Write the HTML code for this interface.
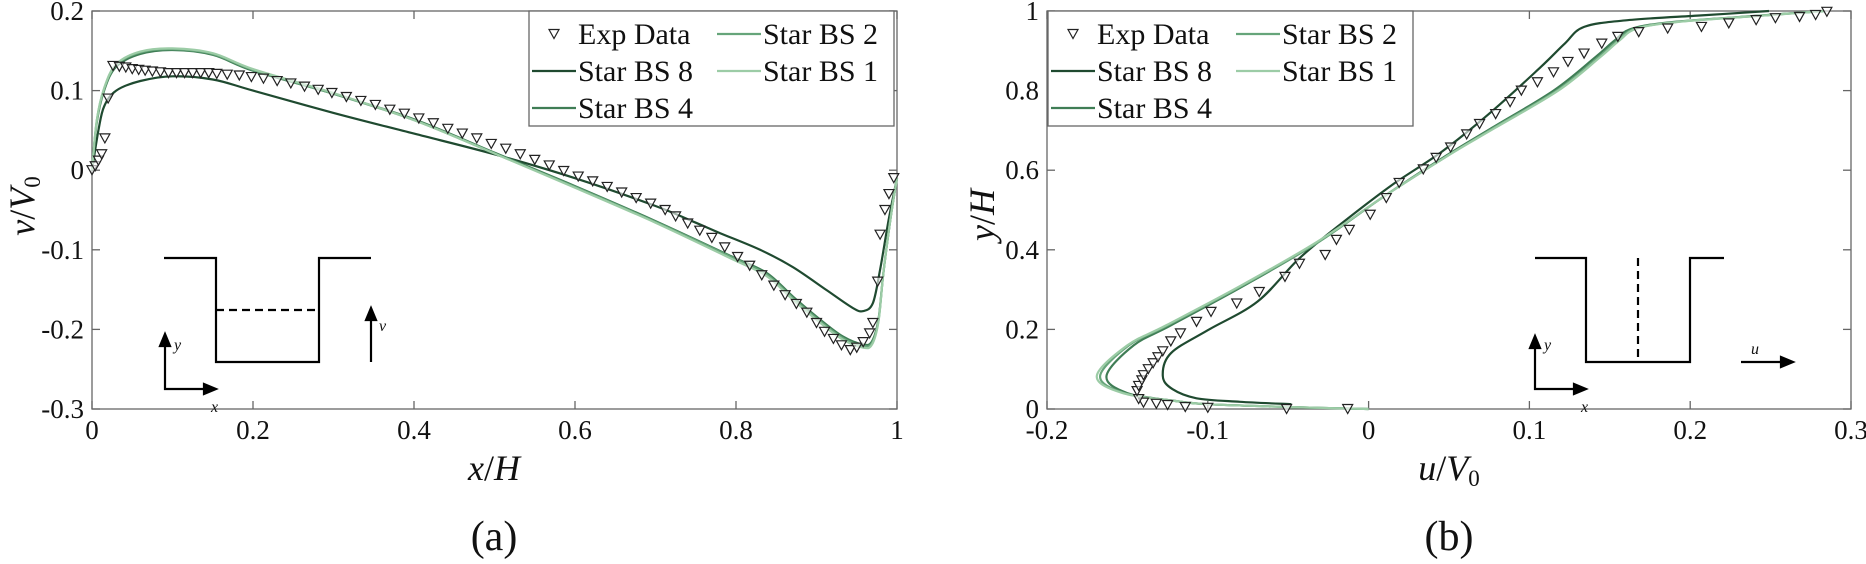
<!DOCTYPE html>
<html><head><meta charset="utf-8"><style>
html,body{margin:0;padding:0;background:#fff;}
svg, svg text{font-family:"Liberation Serif","DejaVu Serif",serif;}
</style></head><body>
<svg id="fig" width="1866" height="559" viewBox="0 0 1866 559" xmlns="http://www.w3.org/2000/svg" font-family="Liberation Serif, serif"></svg>
<script>
// ---------- Panel (a) data ----------
const aTicksX=[0,0.2,0.4,0.6,0.8,1];
const aTickLabelsX=["0","0.2","0.4","0.6","0.8","1"];
const aTicksY=[-0.3,-0.2,-0.1,0,0.1,0.2];
const aTickLabelsY=["-0.3","-0.2","-0.1","0","0.1","0.2"];
const aExpX=[0,0.004,0.008,0.012,0.016,0.02,0.026,0.034,0.042,0.05,0.058,0.066,0.075,0.085,0.095,0.105,0.115,0.125,0.135,0.145,0.155,0.168,0.183,0.198,0.213,0.23,0.247,0.264,0.281,0.298,0.316,0.334,0.352,0.37,0.388,0.406,0.424,0.442,0.46,0.478,0.496,0.514,0.532,0.55,0.568,0.586,0.604,0.622,0.64,0.658,0.676,0.694,0.712,0.725,0.74,0.755,0.77,0.786,0.802,0.817,0.832,0.847,0.861,0.875,0.888,0.9,0.91,0.921,0.931,0.942,0.95,0.958,0.966,0.97,0.976,0.979,0.985,0.99,0.996];
const aExpV=[0,0.005,0.012,0.02,0.04,0.09,0.131,0.13,0.129,0.127,0.126,0.125,0.124,0.123,0.122,0.122,0.122,0.122,0.122,0.122,0.121,0.12,0.119,0.117,0.115,0.112,0.109,0.105,0.101,0.097,0.092,0.087,0.082,0.076,0.071,0.065,0.059,0.052,0.046,0.04,0.033,0.027,0.02,0.013,0.006,-0.001,-0.008,-0.014,-0.021,-0.028,-0.035,-0.042,-0.05,-0.058,-0.067,-0.076,-0.085,-0.097,-0.109,-0.12,-0.132,-0.145,-0.157,-0.168,-0.179,-0.192,-0.203,-0.212,-0.22,-0.226,-0.223,-0.216,-0.205,-0.192,-0.14,-0.081,-0.05,-0.03,-0.01];
const aBS8X=[0,0.008,0.015,0.03,0.06,0.1,0.15,0.2,0.3,0.4,0.5,0.6,0.7,0.75,0.78,0.83,0.871,0.913,0.945,0.958,0.97,0.979,0.99,1.0];
const aBS8V=[0,0.05,0.08,0.1,0.112,0.118,0.114,0.1,0.072,0.046,0.02,-0.01,-0.045,-0.066,-0.079,-0.1,-0.122,-0.151,-0.173,-0.177,-0.167,-0.125,-0.06,-0.01];
const aBS4X=[0,0.006,0.015,0.03,0.06,0.1,0.15,0.2,0.3,0.4,0.5,0.6,0.7,0.796,0.838,0.871,0.905,0.933,0.958,0.969,0.977,0.983,0.992,1.0];
const aBS4V=[0,0.06,0.1,0.13,0.146,0.151,0.145,0.125,0.096,0.064,0.022,-0.02,-0.064,-0.109,-0.129,-0.159,-0.188,-0.209,-0.219,-0.215,-0.187,-0.13,-0.06,-0.01];
const aBS2V=[0,0.062,0.102,0.132,0.148,0.152,0.146,0.126,0.096,0.063,0.021,-0.021,-0.065,-0.11,-0.131,-0.161,-0.19,-0.211,-0.221,-0.217,-0.189,-0.13,-0.06,-0.01];
const aBS1V=[0,0.063,0.103,0.133,0.149,0.153,0.147,0.127,0.097,0.063,0.021,-0.022,-0.066,-0.112,-0.133,-0.163,-0.192,-0.213,-0.223,-0.219,-0.19,-0.13,-0.06,-0.01];

// ---------- Panel (b) data ----------
const bTicksX=[-0.2,-0.1,0,0.1,0.2,0.3];
const bTickLabelsX=["-0.2","-0.1","0","0.1","0.2","0.3"];
const bTicksY=[0,0.2,0.4,0.6,0.8,1];
const bTickLabelsY=["0","0.2","0.4","0.6","0.8","1"];
const bExpU=[-0.013,-0.051,-0.1,-0.114,-0.125,-0.132,-0.14,-0.143,-0.144,-0.143,-0.141,-0.14,-0.137,-0.134,-0.131,-0.128,-0.123,-0.117,-0.107,-0.098,-0.082,-0.068,-0.052,-0.043,-0.027,-0.02,-0.012,0.001,0.011,0.019,0.034,0.042,0.051,0.061,0.069,0.079,0.088,0.095,0.105,0.115,0.124,0.134,0.145,0.155,0.168,0.186,0.207,0.224,0.241,0.253,0.268,0.278,0.285];
const bExpY=[0.0,0.0,0.003,0.005,0.01,0.013,0.016,0.025,0.045,0.058,0.072,0.085,0.1,0.115,0.13,0.145,0.17,0.19,0.219,0.244,0.265,0.294,0.332,0.365,0.387,0.425,0.45,0.488,0.53,0.568,0.602,0.631,0.657,0.69,0.716,0.741,0.771,0.8,0.821,0.846,0.872,0.893,0.918,0.935,0.947,0.956,0.96,0.969,0.977,0.982,0.985,0.99,0.998];
const bBS8U=[-0.048,-0.08,-0.107,-0.122,-0.128,-0.123,-0.1,-0.069,-0.043,-0.015,0.015,0.046,0.077,0.107,0.122,0.134,0.161,0.207,0.249];
const bBS8Y=[0.012,0.018,0.027,0.05,0.083,0.14,0.198,0.27,0.379,0.472,0.564,0.648,0.749,0.859,0.918,0.96,0.977,0.989,1.0];
const bBS4U=[0,-0.05,-0.1,-0.12,-0.15,-0.163,-0.146,-0.123,-0.077,-0.031,0.008,0.046,0.077,0.115,0.141,0.153,0.164,0.191,0.245,0.283];
const bBS4Y=[0,0.005,0.012,0.02,0.04,0.083,0.16,0.21,0.311,0.42,0.53,0.631,0.707,0.8,0.884,0.926,0.956,0.973,0.989,1.0];
const bBS2U=[0,-0.05,-0.1,-0.12,-0.152,-0.167,-0.149,-0.125,-0.078,-0.031,0.008,0.047,0.078,0.117,0.143,0.155,0.166,0.193,0.246,0.283];
const bBS1U=[0,-0.05,-0.1,-0.12,-0.153,-0.169,-0.15,-0.126,-0.079,-0.032,0.008,0.047,0.079,0.118,0.144,0.156,0.167,0.194,0.247,0.283];

const NS="http://www.w3.org/2000/svg";
const svg=document.getElementById('fig');
const FF="Liberation Serif, serif";
function mk(tag,attrs,parent){const e=document.createElementNS(NS,tag);for(const k in attrs)e.setAttribute(k,attrs[k]);(parent||svg).appendChild(e);return e;}
const C8="#1f4a30",C4="#3f7d55",C2="#66a57a",C1="#9ccca6";

function smooth(pts){
  let d='M'+pts[0][0].toFixed(1)+' '+pts[0][1].toFixed(1);
  for(let i=0;i<pts.length-1;i++){
    const p0=pts[Math.max(0,i-1)],p1=pts[i],p2=pts[i+1],p3=pts[Math.min(pts.length-1,i+2)];
    const c1x=p1[0]+(p2[0]-p0[0])/6,c1y=p1[1]+(p2[1]-p0[1])/6;
    const c2x=p2[0]-(p3[0]-p1[0])/6,c2y=p2[1]-(p3[1]-p1[1])/6;
    d+=` C${c1x.toFixed(1)} ${c1y.toFixed(1)} ${c2x.toFixed(1)} ${c2y.toFixed(1)} ${p2[0].toFixed(1)} ${p2[1].toFixed(1)}`;
  }
  return d;
}

function panel(o){
  const g=mk('g',{});
  
  
  const sx=v=>o.x0+(v-o.xmin)/(o.xmax-o.xmin)*(o.x1-o.x0);
  const sy=v=>o.y1-(v-o.ymin)/(o.ymax-o.ymin)*(o.y1-o.y0);
  const box=mk('rect',{x:o.x0,y:o.y0,width:o.x1-o.x0,height:o.y1-o.y0,fill:'none',stroke:'#666','stroke-width':1.3},g);
  
  
  o.ticksX.forEach((t,i)=>{
    const X=sx(t);
    mk('line',{x1:X,x2:X,y1:o.y1,y2:o.y1-8,stroke:'#666','stroke-width':1.3},g);
    mk('line',{x1:X,x2:X,y1:o.y0,y2:o.y0+8,stroke:'#666','stroke-width':1.3},g);
    const tx=mk('text',{x:X,y:o.y1+30,'text-anchor':'middle','font-size':27,'font-family':FF,fill:'#111'},g);
    tx.textContent=o.labelsX[i];
    
    
  });
  o.ticksY.forEach((t,i)=>{
    const Y=sy(t);
    mk('line',{x1:o.x0,x2:o.x0+8,y1:Y,y2:Y,stroke:'#666','stroke-width':1.3},g);
    mk('line',{x1:o.x1,x2:o.x1-8,y1:Y,y2:Y,stroke:'#666','stroke-width':1.3},g);
    const ty=mk('text',{x:o.x0-8,y:Y+9,'text-anchor':'end','font-size':27,'font-family':FF,fill:'#111'},g);
    ty.textContent=o.labelsY[i];
    
    
  });
  o.series.forEach(s=>{
    const pts=s.xs.map((v,i)=>[sx(v),sy(s.ys[i])]);
    const p=mk('path',{d:smooth(pts),fill:'none',stroke:s.color,'stroke-width':2.2,'stroke-linejoin':'round'},g);
    
    
  });
  o.exp.xs.forEach((v,i)=>{
    const X=sx(v),Y=sy(o.exp.ys[i]);
    const m=mk('path',{d:`M${X-5} ${Y-4.5} L${X+5} ${Y-4.5} L${X} ${Y+4.5} Z`,fill:'#fff','fill-opacity':0.6,stroke:'#222','stroke-width':1.2},g);
    
    
  });
  const L=o.legendX,T=o.y0;
  const lg=mk('g',{},g);
  
  
  mk('rect',{x:L,y:T,width:365,height:115,fill:'#fff',stroke:'#666','stroke-width':1.3},lg);
  const items=[["Exp Data",null,0,0],["Star BS 2",C2,1,0],["Star BS 8",C8,0,1],["Star BS 1",C1,1,1],["Star BS 4",C4,0,2]];
  items.forEach(it=>{
    const cx=L+(it[2]?188:3),cy=T+22+it[3]*37;
    if(it[1]){mk('line',{x1:cx,x2:cx+44,y1:cy+1,y2:cy+1,stroke:it[1],'stroke-width':2.2},lg);}
    else{const X=cx+22,Y=cy+1;mk('path',{d:`M${X-5} ${Y-4.5} L${X+5} ${Y-4.5} L${X} ${Y+4.5} Z`,fill:'#fff',stroke:'#222','stroke-width':1.2},lg);}
    const t=mk('text',{x:cx+46,y:cy+11,'font-size':30,'font-family':FF,fill:'#111'},lg);
    t.textContent=it[0];
    
    
  });
}

panel({name:'panel-a',x0:92,x1:897,y0:11,y1:409,xmin:0,xmax:1,ymin:-0.3,ymax:0.2,
  ticksX:aTicksX,labelsX:aTickLabelsX,ticksY:aTicksY,labelsY:aTickLabelsY,legendX:529,
  series:[{name:'star-bs-8-line',xs:aBS8X,ys:aBS8V,color:C8},{name:'star-bs-4-line',xs:aBS4X,ys:aBS4V,color:C4},{name:'star-bs-2-line',xs:aBS4X,ys:aBS2V,color:C2},{name:'star-bs-1-line',xs:aBS4X,ys:aBS1V,color:C1}],
  exp:{xs:aExpX,ys:aExpV}});
panel({name:'panel-b',x0:1047,x1:1851,y0:11,y1:409,xmin:-0.2,xmax:0.3,ymin:0,ymax:1,
  ticksX:bTicksX,labelsX:bTickLabelsX,ticksY:bTicksY,labelsY:bTickLabelsY,legendX:1048,
  series:[{name:'star-bs-8-line',xs:bBS8U,ys:bBS8Y,color:C8},{name:'star-bs-4-line',xs:bBS4U,ys:bBS4Y,color:C4},{name:'star-bs-2-line',xs:bBS2U,ys:bBS4Y,color:C2},{name:'star-bs-1-line',xs:bBS1U,ys:bBS4Y,color:C1}],
  exp:{xs:bExpU,ys:bExpY}});
</script>
<script>
(function(){
const svg=document.getElementById('fig');
const NS="http://www.w3.org/2000/svg";
const frag=`
<g fill="#111" font-family="Liberation Serif, serif">
<text transform="translate(34,206) rotate(-90)" text-anchor="middle" font-size="36"><tspan font-style="italic">v</tspan>/<tspan font-style="italic">V</tspan><tspan font-size="23" dy="6">0</tspan></text>
<text x="494" y="480" text-anchor="middle" font-size="36"><tspan font-style="italic">x</tspan>/<tspan font-style="italic">H</tspan></text>
<text x="494" y="550" text-anchor="middle" font-size="42">(a)</text>
<text transform="translate(994,215) rotate(-90)" text-anchor="middle" font-size="36"><tspan font-style="italic">y</tspan>/<tspan font-style="italic">H</tspan></text>
<text x="1449" y="480" text-anchor="middle" font-size="36"><tspan font-style="italic">u</tspan>/<tspan font-style="italic">V</tspan><tspan font-size="23" dy="6">0</tspan></text>
<text x="1449" y="550" text-anchor="middle" font-size="42">(b)</text>
</g>
<g stroke="#000" stroke-width="2.2" fill="none">
<path d="M164 258 H216 V362 H319 V258 H371"/>
<path d="M216 310 H319" stroke-dasharray="8 5"/>
<path d="M371 362 V316"/><path d="M366 320 L371 308 L376 320 Z" fill="#000"/>
<path d="M165 340 V389 H206"/><path d="M160 346 L165 334 L170 346 Z" fill="#000"/><path d="M204 384 L216 389 L204 394 Z" fill="#000"/>
</g>
<g font-style="italic" font-size="16" fill="#111" font-family="Liberation Serif, serif">
<text x="379" y="331">v</text><text x="174" y="350">y</text><text x="211" y="412">x</text>
</g>
<g stroke="#000" stroke-width="2.2" fill="none">
<path d="M1535 258 H1586 V362 H1690 V258 H1724"/>
<path d="M1638 258 V362" stroke-dasharray="8 5"/>
<path d="M1741 362 H1785"/><path d="M1781 357 L1793 362 L1781 367 Z" fill="#000"/>
<path d="M1535 343 V389 H1576"/><path d="M1530 348 L1535 336 L1540 348 Z" fill="#000"/><path d="M1574 384 L1586 389 L1574 394 Z" fill="#000"/>
</g>
<g font-style="italic" font-size="16" fill="#111" font-family="Liberation Serif, serif">
<text x="1751" y="354">u</text><text x="1544" y="350">y</text><text x="1581" y="412">x</text>
</g>`;
const tmp=document.createElementNS(NS,'g');
tmp.innerHTML=frag;
while(tmp.firstChild)svg.appendChild(tmp.firstChild);
})();
</script>
</body></html>
